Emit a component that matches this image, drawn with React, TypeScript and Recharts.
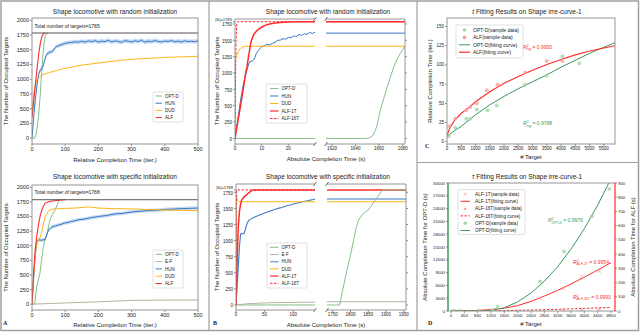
import React from "react";
import { ComposedChart, Line, Area, Scatter, XAxis, YAxis, ReferenceLine } from "recharts";

const FONT = "'Liberation Sans', Arial, sans-serif";
const GREEN = "#86bf86";
const GREEN_DARK = "#3a9a5c";
const GREEN_PT = "#a6d6a6";
const BLUE = "#3b78c6";
const BAND = "#aecbee";
const YELLOW = "#fdb515";
const RED = "#ff2b2b";
const RED_PT = "#f7a0a0";
const GREY_EF = "#b8b3a2";
const FRAME = "#8a8a8a";

// ---------- panel A top: random initialization, relative time ----------
const relTicks = [0, 100, 200, 300, 400, 500];
const occTicks = [0, 250, 500, 750, 1000, 1250, 1500, 1750, 2000];

const aTopOptX = [0, 8, 12, 16, 20, 25, 30, 35, 40, 45, 50];
const aTopOptY = [0, 0, 60, 200, 380, 750, 1200, 1550, 1740, 1785, 1785];
const aTopHunX = [
  0, 5, 10, 15, 20, 25, 30, 35, 40, 45, 50, 55, 60, 65, 70, 75, 80, 90, 100, 110, 120, 130, 140,
  150, 160, 170, 180, 190, 200, 210, 220, 230, 240, 250, 260, 270, 280, 290, 300, 310, 320, 330,
  340, 350, 360, 370, 380, 390, 400, 410, 420, 430, 440, 450, 460, 470, 480, 490, 500,
];
const aTopHunY = [
  0, 350, 650, 900, 1080, 1160, 1180, 1250, 1360, 1430, 1450, 1460, 1470, 1490, 1540, 1560, 1570, 1590, 1610, 1620, 1625, 1635, 1630,
  1645, 1630, 1650, 1638, 1655, 1632, 1648, 1640, 1660, 1635, 1650, 1642, 1628, 1655, 1645, 1635, 1652, 1640,
  1660, 1630, 1648, 1638, 1655, 1642, 1633, 1650, 1640, 1658, 1636, 1647, 1632, 1652, 1640, 1645, 1638, 1650,
];
const aTopDudX = [0, 3, 6, 10, 15, 20, 30, 50, 75, 100, 150, 200, 250, 300, 350, 400, 450, 500];
const aTopDudY = [350, 600, 800, 920, 990, 1030, 1070, 1110, 1150, 1185, 1240, 1275, 1310, 1340, 1355, 1370, 1380, 1390];
const aTopAlfX = [0, 5, 10, 15, 20, 25, 30, 35, 40];
const aTopAlfY = [350, 620, 900, 1170, 1420, 1610, 1730, 1780, 1785];

// ---------- panel A bottom: specific initialization, relative time ----------
const aBotOptX = [0, 8, 14, 24, 34, 39, 45, 54, 62, 69, 76, 82];
const aBotOptY = [0, 0, 300, 530, 980, 1100, 1200, 1440, 1540, 1611, 1700, 1788];
const aBotEfX = [0, 50, 100, 200, 300, 400, 500];
const aBotEfY = [0, 10, 20, 40, 65, 70, 70];
const aBotHunX = [0, 5, 10, 15, 20, 30, 40, 45, 50, 55, 60, 70, 80, 90, 100, 120, 140, 160, 180, 200, 225, 250, 275, 300, 325, 350, 375, 400, 425, 450, 475, 500];
const aBotHunY = [0, 450, 850, 1080, 1100, 1095, 1110, 1200, 1270, 1300, 1320, 1340, 1355, 1372, 1390, 1415, 1445, 1458, 1482, 1500, 1518, 1545, 1555, 1578, 1590, 1602, 1608, 1622, 1628, 1636, 1640, 1645];
const aBotDudX = [0, 5, 10, 15, 20, 25, 30, 35, 40, 50, 60, 80, 100, 130, 160, 170, 200, 250, 300, 350, 400, 450, 500];
const aBotDudY = [0, 500, 850, 1050, 1100, 1150, 1250, 1400, 1500, 1600, 1625, 1635, 1640, 1645, 1660, 1665, 1645, 1635, 1630, 1620, 1612, 1605, 1600];
const aBotAlfX = [0, 5, 10, 14, 20, 24, 30, 39, 50, 60, 80, 100];
const aBotAlfY = [0, 550, 950, 1154, 1380, 1497, 1620, 1726, 1754, 1765, 1780, 1788];

// ---------- panel B top: random initialization, absolute time (broken axis) ----------
const bTopTicksL = [0, 10, 20];
const bTopTicksR = [1620, 1640, 1660, 1680];
const bTopYTicks = [0, 250, 500, 750, 1000, 1250, 1500, 1750, 1785];
const bTopOptLX = [0, 30];
const bTopOptLY = [0, 0];
const bTopOptRX = [1615, 1648, 1652, 1655, 1658, 1661, 1664, 1667, 1670, 1672.5, 1675, 1678, 1682];
const bTopOptRY = [0, 0, 8, 50, 178, 433, 610, 790, 960, 1096, 1200, 1300, 1413];
const bTopHunX = [0, 1, 2, 2.5, 3, 4, 5, 5.5, 6, 6.5, 7, 7.5, 8, 9, 10, 11, 12, 13, 14, 15, 16, 17, 18, 19, 20, 21, 22, 23, 24, 25, 26, 27, 28, 29, 30];
const bTopHunY = [0, 280, 560, 689, 800, 980, 1122, 1170, 1180, 1185, 1200, 1240, 1300, 1360, 1400, 1420, 1440, 1430, 1452, 1470, 1500, 1503, 1525, 1518, 1545, 1540, 1565, 1560, 1590, 1575, 1600, 1590, 1620, 1605, 1625];
const bTopDudX = [0, 0.15, 0.5, 1, 1.5, 2, 3, 4, 30];
const bTopDudY = [0, 1200, 1260, 1310, 1350, 1375, 1400, 1410, 1410];
const bTopAlf1X = [0, 1, 2, 3, 4, 4.5, 5, 6, 7, 8, 9, 10, 11, 13, 15, 18, 22, 30];
const bTopAlf1Y = [0, 240, 480, 730, 1000, 1100, 1230, 1480, 1590, 1640, 1675, 1700, 1725, 1750, 1765, 1778, 1783, 1785];
const bTopAlf16X = [0, 0.2, 0.4, 0.6, 0.8, 1, 30];
const bTopAlf16Y = [0, 900, 1500, 1720, 1770, 1785, 1785];
const bTopFlatRX = [1615, 1682];
const bTopHunR = [1610, 1610];
const bTopDudR = [1410, 1410];
const bTopAlfR = [1785, 1785];

// ---------- panel B bottom: specific initialization, absolute time (broken axis) ----------
const bBotTicksL = [0, 50, 100];
const bBotTicksR = [1750, 1800, 1850, 1900, 1950];
const bBotYTicks = [0, 250, 500, 750, 1000, 1250, 1500, 1750, 1788];
const bBotOptLX = [0, 138];
const bBotOptLY = [0, 0];
const bBotOptRX = [1734, 1769.6, 1776, 1783, 1790, 1800, 1809, 1816, 1823, 1830, 1837, 1843, 1850, 1856, 1862, 1869, 1876, 1883, 1888, 1892, 1956];
const bBotOptRY = [0, 0, 181, 360, 543, 780, 1009, 1200, 1320, 1380, 1424, 1450, 1475, 1520, 1570, 1630, 1680, 1734, 1765, 1788, 1788];
const bBotEfLX = [0, 20, 60, 138];
const bBotEfLY = [0, 20, 35, 45];
const bBotHunX = [0, 3, 6, 8, 10, 12, 14, 16, 18, 20, 22, 25, 30, 35, 40, 45, 50, 55, 60, 65, 70, 75, 80, 85, 90, 95, 100, 105, 110, 115, 120, 125, 130, 135, 138];
const bBotHunY = [0, 450, 900, 1100, 1110, 1108, 1115, 1160, 1230, 1280, 1310, 1330, 1355, 1375, 1395, 1410, 1430, 1445, 1460, 1475, 1490, 1505, 1515, 1530, 1545, 1555, 1570, 1580, 1590, 1600, 1612, 1620, 1630, 1638, 1646];
const bBotDudX = [0, 0.5, 1, 1.5, 2, 3, 4, 5, 138];
const bBotDudY = [0, 1600, 1700, 1690, 1650, 1620, 1610, 1604, 1604];
const bBotAlf1X = [0, 2, 4, 6, 8, 10, 13, 16, 19, 22, 26, 30, 138];
const bBotAlf1Y = [0, 700, 1216, 1450, 1570, 1630, 1670, 1695, 1715, 1740, 1770, 1788, 1788];
const bBotAlf16X = [0, 0.5, 1, 138];
const bBotAlf16Y = [0, 1200, 1788, 1788];
const bBotFlatRX = [1734, 1956];
const bBotEfR = [50, 50];
const bBotHunR = [1646, 1646];
const bBotDudR = [1604, 1604];
const bBotAlfR = [1788, 1788];

// ---------- panel C: t fitting ----------
const cXTicks = [0, 500, 1000, 1500, 2000, 2500, 3000, 3500, 4000, 4500, 5000, 5500];
const cYTicks = [0, 25, 50, 75, 100, 125, 150];
const cOptPtX = [58, 290, 675, 815, 1049, 1420, 1748, 2738, 3497, 4045, 4638];
const cOptPtY = [7, 18, 30, 30, 42, 41, 47, 74, 86, 111, 102];
const cAlfPtX = [92, 290, 675, 815, 1049, 1399, 1772, 2738, 3497, 4045];
const cAlfPtY = [20, 30, 41, 45, 50, 67, 74, 90, 105, 105];
const cOptFitX = [0, 250, 500, 1000, 1500, 2000, 2500, 3000, 3500, 4000, 4500, 5000, 5500, 5900];
const cOptFitY = [7, 14, 20, 35, 48, 59, 69, 78, 87, 97, 106, 115, 123, 129];
const cAlfFitX = [0, 100, 250, 500, 750, 1000, 1500, 2000, 2500, 3000, 3500, 4000, 4500, 5000, 5500, 5900];
const cAlfFitY = [8, 18, 27, 37, 44, 52, 65, 76, 85, 93, 100.5, 107, 113, 118, 122, 125];

// ---------- panel D: tau fitting ----------
const dXTicks = [0, 400, 800, 1200, 1600, 2000, 2400, 2800, 3200, 3600, 4000, 4400, 4800];
const dLTicks = [0, 3000, 6000, 9000, 12000, 15000, 18000, 21000, 24000, 27000, 30000];
const dRTicks = [0, 100, 200, 300, 400, 500, 600, 700, 800, 900];
const dOptPtX = [78, 290, 827, 1227, 1397, 2673, 3392, 4221, 4749];
const dOptPtY = [0, 0, 0, 235, 1010, 6887, 13935, 22160, 28590];
const dOptFitX = [0, 400, 800, 1200, 1600, 2000, 2400, 2800, 3200, 3600, 4000, 4400, 4800];
const dOptFitY = [0, 0, 30, 120, 760, 2150, 4200, 6950, 10400, 14500, 19300, 24800, 31000];
const dAlf1PtX = [78, 290, 827, 1227, 1397, 2673, 3372, 3920, 4449];
const dAlf1PtY = [0, 1, 2, 4, 6, 89, 160, 242, 280];
const dAlf1FitX = [0, 400, 800, 1200, 1600, 2000, 2400, 2800, 3200, 3600, 4000, 4400, 4800];
const dAlf1FitY = [0, 1, 4, 10, 20, 38, 68, 105, 145, 190, 238, 288, 340];
const dAlf16PtX = [78, 290, 827, 1227, 1397, 2673, 3372, 3920, 4449];
const dAlf16PtY = [0, 0, 0, 1, 2, 3, 10, 12, 15];
const dAlf16FitX = [0, 800, 1600, 2400, 3200, 4000, 4800];
const dAlf16FitY = [0, 1, 3, 7, 12, 18, 25];

const pts = (xs: number[], ys: number[]) => xs.map((x, i) => ({ x, y: ys[i] }));
const band = (xs: number[], ys: number[], s: number) => xs.map((x, i) => ({ x, band: [ys[i] - s, ys[i] + s] }));

type R = { x: number; y: number; w: number; h: number };
const rAT: R = { x: 32, y: 18, w: 166, h: 126 };
const rAB: R = { x: 32, y: 185, w: 166, h: 125 };
const rBTL: R = { x: 235, y: 19, w: 80, h: 125 };
const rBTR: R = { x: 326, y: 19, w: 79, h: 125 };
const rBBL: R = { x: 236, y: 184, w: 79, h: 126 };
const rBBR: R = { x: 327, y: 184, w: 79, h: 126 };
const rC: R = { x: 447, y: 18, w: 168, h: 126 };
const rD: R = { x: 448, y: 183, w: 167, h: 128 };

function Box({ r, yw, rw = 0, xh = 12, children }: { r: R; yw: number; rw?: number; xh?: number; children: React.ReactNode }) {
  const right = rw > 0 ? 0 : 8;
  return (
    <div style={{ position: "absolute", left: r.x - yw, top: r.y - 3 }}>
      <ComposedChart width={r.w + yw + rw + right} height={r.h + 3 + xh} margin={{ top: 3, right, left: 0, bottom: 0 }}>
        {children}
      </ComposedChart>
    </div>
  );
}

const tickLine = { stroke: "#444", strokeWidth: 0.6 };
const xAx = (domain: number[], ticks: number[], fs: number) => (
  <XAxis type="number" dataKey="x" domain={domain} ticks={ticks} interval={0} allowDataOverflow axisLine={false}
    tickLine={tickLine} tickSize={2} tickMargin={1} height={12} tick={{ fontSize: fs, fill: "#222", fontFamily: FONT }} />
);
const yAx = (domain: number[], ticks: number[], fs: number, width: number, opts: any = {}) => (
  <YAxis type="number" dataKey="y" domain={domain} ticks={ticks} interval={0} allowDataOverflow axisLine={false}
    tickLine={tickLine} tickSize={2} tickMargin={1} width={width} tick={{ fontSize: fs, fill: "#222", fontFamily: FONT }} {...opts} />
);
const ln = (data: any[], color: string, w = 1, dash?: string, axis: any = 0) => (
  <Line data={data} dataKey="y" type="linear" stroke={color} strokeWidth={w} strokeDasharray={dash} dot={false}
    activeDot={false} isAnimationActive={false} yAxisId={axis} />
);
const dotShape = (color: string) => (p: any) => <circle cx={p.cx} cy={p.cy} r={2} fill={color} fillOpacity={0.8} />;
const crossShape = (color: string) => (p: any) => (
  <g stroke={color} strokeWidth={0.7}>
    <line x1={p.cx - 1.7} y1={p.cy - 1.7} x2={p.cx + 1.7} y2={p.cy + 1.7} />
    <line x1={p.cx - 1.7} y1={p.cy + 1.7} x2={p.cx + 1.7} y2={p.cy - 1.7} />
  </g>
);
const triShape = (color: string) => (p: any) => (
  <polygon points={`${p.cx},${p.cy - 2} ${p.cx - 1.8},${p.cy + 1.4} ${p.cx + 1.8},${p.cy + 1.4}`} fill={color} fillOpacity={0.8} />
);

// |S| tick label sits a little above the 1750 label, as in the figure
const STick = (p: any) => {
  const v = p.payload.value;
  const top = v === 1785 || v === 1788;
  return (
    <text x={p.x} y={p.y + (top ? -2.2 : 0.6)} dy="0.355em" textAnchor="end" fontSize={top ? 4.2 : 4.5} fill="#222" fontFamily={FONT}>
      {top ? `|S|=${v}` : String(v)}
    </text>
  );
};
const noLabel = () => "";

type Item = { label: string; color: string; kind: "line" | "circle" | "cross" | "tri"; w?: number; dash?: string; op?: number };
function LegendSvg({ x, y, w, h, items, x0, x1, tx, y0, step, fs }: any) {
  return (
    <g>
      <rect x={x} y={y} width={w} height={h} fill="#fff" fillOpacity={0.9} stroke="#cfcfcf" strokeWidth={0.6} rx={1} />
      {items.map((it: Item, i: number) => {
        const cy = y0 + i * step;
        const cx = (x0 + x1) / 2;
        return (
          <g key={i}>
            {it.kind === "line" && <line x1={x0} x2={x1} y1={cy} y2={cy} stroke={it.color} strokeWidth={it.w ?? 1} strokeDasharray={it.dash} strokeOpacity={it.op ?? 1} />}
            {it.kind === "circle" && <circle cx={cx} cy={cy} r={1.8} fill={it.color} />}
            {it.kind === "cross" && (
              <g stroke={it.color} strokeWidth={0.7}>
                <line x1={cx - 1.6} y1={cy - 1.6} x2={cx + 1.6} y2={cy + 1.6} />
                <line x1={cx - 1.6} y1={cy + 1.6} x2={cx + 1.6} y2={cy - 1.6} />
              </g>
            )}
            {it.kind === "tri" && <polygon points={`${cx},${cy - 1.9} ${cx - 1.7},${cy + 1.3} ${cx + 1.7},${cy + 1.3}`} fill={it.color} />}
            <text x={tx} y={cy + fs * 0.36} fontSize={fs} fontFamily={FONT} fill="#222">{it.label}</text>
          </g>
        );
      })}
    </g>
  );
}

const frame = (r: R, color = FRAME) => <rect x={r.x} y={r.y} width={r.w} height={r.h} fill="none" stroke={color} strokeWidth={0.9} />;
const brk = (x: number, y: number) => <line x1={x - 1.5} y1={y + 2} x2={x + 1.5} y2={y - 2} stroke="#333" strokeWidth={0.7} />;
const Rsq = ({ x, y, color, sub, val }: any) => (
  <text x={x} y={y} fill={color} fontSize={5} fontFamily={FONT}>
    <tspan fontStyle="italic">R</tspan>
    <tspan fontSize={3.4} dy={-2}>2</tspan>
    <tspan fontSize={3.4} dx={-1.9} dy={3.6} fontStyle="italic">{sub}</tspan>
    <tspan dy={-1.6}>{` = ${val}`}</tspan>
  </text>
);

export default function App() {
  const occDom = [-100, 2040];
  return (
    <div style={{ position: "fixed", left: 0, top: 0, width: 640, height: 333, background: "#fff", overflow: "hidden" }}>
      {/* A top */}
      <Box r={rAT} yw={22}>
        {xAx([0, 500], relTicks, 5.5)}
        {yAx(occDom, occTicks, 5.5, 22)}
        <Area data={band(aTopHunX, aTopHunY, 35)} dataKey="band" stroke="none" fill={BAND} fillOpacity={0.7} isAnimationActive={false} activeDot={false} />
        {ln(pts(aTopOptX, aTopOptY), GREEN)}
        {ln(pts(aTopHunX, aTopHunY), BLUE)}
        {ln(pts(aTopDudX, aTopDudY), YELLOW)}
        {ln(pts(aTopAlfX, aTopAlfY), RED, 1.1)}
        <ReferenceLine y={1785} stroke="#555" strokeWidth={1} />
      </Box>
      {/* A bottom */}
      <Box r={rAB} yw={22}>
        {xAx([0, 500], relTicks, 5.5)}
        {yAx(occDom, occTicks, 5.5, 22)}
        <Area data={band(aBotHunX, aBotHunY, 30)} dataKey="band" stroke="none" fill={BAND} fillOpacity={0.7} isAnimationActive={false} activeDot={false} />
        {ln(pts(aBotOptX, aBotOptY), GREEN)}
        {ln(pts(aBotEfX, aBotEfY), GREY_EF)}
        {ln(pts(aBotHunX, aBotHunY), BLUE)}
        {ln(pts(aBotDudX, aBotDudY), YELLOW)}
        {ln(pts(aBotAlfX, aBotAlfY), RED, 1.1)}
        <ReferenceLine y={1788} stroke="#555" strokeWidth={1} />
      </Box>
      {/* B top left */}
      <Box r={rBTL} yw={24}>
        {xAx([0, 30], bTopTicksL, 4.5)}
        {yAx([-85, 1826], bTopYTicks, 4.5, 24, { tick: <STick /> })}
        {ln(pts(bTopOptLX, bTopOptLY), GREEN)}
        {ln(pts(bTopHunX, bTopHunY), BLUE)}
        {ln(pts(bTopDudX, bTopDudY), YELLOW)}
        {ln(pts(bTopAlf1X, bTopAlf1Y), RED, 1.5)}
        {ln(pts(bTopAlf16X, bTopAlf16Y), RED, 1, "2.5 1.5")}
      </Box>
      {/* B top right */}
      <Box r={rBTR} yw={0} rw={4}>
        {xAx([1615, 1682], bTopTicksR, 4.5)}
        {yAx([-85, 1826], bTopYTicks.slice(0, 8), 4.5, 4, { orientation: "right", tickFormatter: noLabel })}
        {ln(pts(bTopFlatRX, bTopHunR), BLUE)}
        {ln(pts(bTopFlatRX, bTopDudR), YELLOW)}
        {ln(pts(bTopFlatRX, bTopAlfR), RED, 1.5)}
        {ln(pts(bTopFlatRX, bTopAlfR), RED, 1, "2.5 1.5")}
        {ln(pts(bTopOptRX, bTopOptRY), GREEN)}
      </Box>
      {/* B bottom left */}
      <Box r={rBBL} yw={24}>
        {xAx([0, 138], bBotTicksL, 4.5)}
        {yAx([-78, 1880], bBotYTicks, 4.5, 24, { tick: <STick /> })}
        {ln(pts(bBotOptLX, bBotOptLY), GREEN)}
        {ln(pts(bBotEfLX, bBotEfLY), GREY_EF)}
        {ln(pts(bBotHunX, bBotHunY), BLUE, 1.1)}
        {ln(pts(bBotDudX, bBotDudY), YELLOW)}
        {ln(pts(bBotAlf1X, bBotAlf1Y), RED, 1.5)}
        {ln(pts(bBotAlf16X, bBotAlf16Y), RED, 1, "2.5 1.5")}
      </Box>
      {/* B bottom right */}
      <Box r={rBBR} yw={0} rw={4}>
        {xAx([1734, 1956], bBotTicksR, 4.5)}
        {yAx([-78, 1880], bBotYTicks.slice(0, 8), 4.5, 4, { orientation: "right", tickFormatter: noLabel })}
        {ln(pts(bBotFlatRX, bBotEfR), GREY_EF, 1.2)}
        {ln(pts(bBotFlatRX, bBotHunR), BLUE, 1.1)}
        {ln(pts(bBotFlatRX, bBotDudR), YELLOW)}
        {ln(pts(bBotFlatRX, bBotAlfR), RED, 1.5)}
        {ln(pts(bBotOptRX, bBotOptRY), GREEN)}
      </Box>
      {/* C */}
      <Box r={rC} yw={18}>
        {xAx([0, 5890], cXTicks, 4.5)}
        {yAx([-3, 161], cYTicks, 4.5, 18)}
        <Scatter data={pts(cOptPtX, cOptPtY)} dataKey="y" shape={dotShape(GREEN_PT)} isAnimationActive={false} />
        <Scatter data={pts(cAlfPtX, cAlfPtY)} dataKey="y" shape={dotShape(RED_PT)} isAnimationActive={false} />
        {ln(pts(cOptFitX, cOptFitY), GREEN_DARK)}
        {ln(pts(cAlfFitX, cAlfFitY), RED, 1.1)}
      </Box>
      {/* D */}
      <Box r={rD} yw={20} rw={14}>
        {xAx([-90, 4920], dXTicks, 4.3)}
        {yAx([0, 30000], dLTicks, 4.3, 20, { yAxisId: "l" })}
        {yAx([0, 900], dRTicks, 4.3, 14, { yAxisId: "r", orientation: "right" })}
        <Scatter yAxisId="r" data={pts(dAlf1PtX, dAlf1PtY)} dataKey="y" shape={crossShape(RED_PT)} isAnimationActive={false} />
        <Scatter yAxisId="r" data={pts(dAlf16PtX, dAlf16PtY)} dataKey="y" shape={triShape(RED_PT)} isAnimationActive={false} />
        <Scatter yAxisId="l" data={pts(dOptPtX, dOptPtY)} dataKey="y" shape={dotShape(GREEN_PT)} isAnimationActive={false} />
        {ln(pts(dAlf1FitX, dAlf1FitY), RED, 1, undefined, "r")}
        {ln(pts(dAlf16FitX, dAlf16FitY), RED, 1, "2.5 1.5", "r")}
        {ln(pts(dOptFitX, dOptFitY), GREEN_DARK, 1, undefined, "l")}
      </Box>

      <svg width={640} height={333} style={{ position: "absolute", left: 0, top: 0, pointerEvents: "none" }}>
        {/* figure borders */}
        <rect x={1} y={1} width={637.5} height={329.5} fill="none" stroke="#a0a0a0" strokeWidth={1.5} />
        <line x1={209} y1={1} x2={209} y2={330.5} stroke="#a0a0a0" strokeWidth={1.2} />
        <line x1={417} y1={1} x2={417} y2={330.5} stroke="#a0a0a0" strokeWidth={1.2} />
        <line x1={417} y1={162.5} x2={638.5} y2={162.5} stroke="#a0a0a0" strokeWidth={1.2} />

        {/* frames */}
        {frame(rAT)}
        {frame(rAB)}
        {frame(rC)}
        <line x1={rD.x} y1={rD.y} x2={rD.x + rD.w} y2={rD.y} stroke={FRAME} strokeWidth={0.9} />
        <line x1={rD.x} y1={rD.y + rD.h} x2={rD.x + rD.w} y2={rD.y + rD.h} stroke={FRAME} strokeWidth={0.9} />
        <line x1={rD.x} y1={rD.y} x2={rD.x} y2={rD.y + rD.h} stroke={GREEN_DARK} strokeWidth={1.5} />
        <line x1={rD.x + rD.w} y1={rD.y} x2={rD.x + rD.w} y2={rD.y + rD.h} stroke={RED} strokeWidth={1.2} />
        {[rBTL, rBBL].map((r, i) => (
          <path key={"l" + i} d={`M${r.x + r.w},${r.y} H${r.x} V${r.y + r.h} H${r.x + r.w}`} fill="none" stroke={FRAME} strokeWidth={0.9} />
        ))}
        {[rBTR, rBBR].map((r, i) => (
          <path key={"r" + i} d={`M${r.x},${r.y} H${r.x + r.w} V${r.y + r.h} H${r.x}`} fill="none" stroke={FRAME} strokeWidth={0.9} />
        ))}
        {brk(rBTL.x + rBTL.w, rBTL.y)}{brk(rBTL.x + rBTL.w, rBTL.y + rBTL.h)}
        {brk(rBTR.x, rBTR.y)}{brk(rBTR.x, rBTR.y + rBTR.h)}
        {brk(rBBL.x + rBBL.w, rBBL.y)}{brk(rBBL.x + rBBL.w, rBBL.y + rBBL.h)}
        {brk(rBBR.x, rBBR.y)}{brk(rBBR.x, rBBR.y + rBBR.h)}

        {/* titles */}
        <g fontFamily={FONT} fill="#222" fontSize={6.5} textAnchor="middle">
          <text x={115} y={13.5}>Shape locomotive with random initialization</text>
          <text x={328} y={13.5}>Shape locomotive with random initialization</text>
          <text x={115} y={178.5}>Shape locomotive with specific initialization</text>
          <text x={328} y={178.5}>Shape locomotive with specific initialization</text>
          <text x={527} y={14}><tspan fontStyle="italic">t</tspan> Fitting Results on Shape irre-curve-1</text>
          <text x={527} y={179}><tspan fontStyle="italic">τ</tspan> Fitting Results on Shape irre-curve-1</text>
        </g>
        {/* axis labels */}
        <g fontFamily={FONT} fill="#222" fontSize={6} textAnchor="middle">
          <text x={115} y={162}>Relative Completion Time (iter.)</text>
          <text x={115} y={326.5}>Relative Completion Time (iter.)</text>
          <text x={326} y={160.5}>Absolute Completion Time (s)</text>
          <text x={326} y={327}>Absolute Completion Time (s)</text>
          <text x={531} y={159}># Target</text>
          <text x={531} y={326}># Target</text>
          <text transform="translate(8,81) rotate(-90)">The Number of Occupied Targets</text>
          <text transform="translate(8,247.5) rotate(-90)">The Number of Occupied Targets</text>
          <text transform="translate(219,81) rotate(-90)">The Number of Occupied Targets</text>
          <text transform="translate(219,247) rotate(-90)">The Number of Occupied Targets</text>
          <text transform="translate(432,81) rotate(-90)">Relative Completion Time (iter.)</text>
          <text transform="translate(427,247) rotate(-90)">Absolute Completion Time for OPT-D (s)</text>
          <text transform="translate(635,247) rotate(-90)">Absolute Completion Time for ALF (s)</text>
        </g>
        {/* panel letters */}
        <g fontFamily="'Liberation Serif', serif" fontSize={6} fontWeight="bold" fill="#222">
          <text x={3} y={325}>A</text>
          <text x={213} y={325}>B</text>
          <text x={425} y={148}>C</text>
          <text x={428} y={325}>D</text>
        </g>
        {/* total number boxes */}
        <g fontFamily={FONT} fontSize={5} fill="#222">
          <text x={34.5} y={27.5}>Total number of targets=1785</text>
          <text x={34.5} y={194}>Total number of targets=1788</text>
        </g>
        {/* R^2 annotations */}
        <Rsq x={523} y={48.5} color={RED} sub="log" val="0.9950" />
        <Rsq x={523} y={125} color={GREEN_DARK} sub="log" val="0.9788" />
        <Rsq x={548} y={222} color={GREEN_DARK} sub="OPT-D" val="0.9976" />
        <Rsq x={573} y={263.5} color={RED} sub="ALF-1T" val="0.9954" />
        <Rsq x={573} y={298.5} color={RED} sub="ALF-16T" val="0.9993" />

        {/* legends */}
        <LegendSvg x={153} y={92} w={30} h={30} x0={155.5} x1={162} tx={165} y0={96} step={7.2} fs={4.5}
          items={[
            { label: "OPT-D", color: GREEN, kind: "line" },
            { label: "HUN", color: BLUE, kind: "line" },
            { label: "DUD", color: YELLOW, kind: "line" },
            { label: "ALF", color: RED, kind: "line" },
          ]} />
        <LegendSvg x={153} y={250} w={30} h={38} x0={155.5} x1={162} tx={165} y0={254.3} step={7.3} fs={4.5}
          items={[
            { label: "OPT-D", color: GREEN, kind: "line" },
            { label: "E-F", color: GREY_EF, kind: "line" },
            { label: "HUN", color: BLUE, kind: "line", w: 1.6, op: 0.6 },
            { label: "DUD", color: YELLOW, kind: "line" },
            { label: "ALF", color: RED, kind: "line" },
          ]} />
        <LegendSvg x={266} y={84} w={41} h={39} x0={270} x1={278.5} tx={281.5} y0={88.5} step={7.5} fs={4.5}
          items={[
            { label: "OPT-D", color: GREEN, kind: "line" },
            { label: "HUN", color: BLUE, kind: "line" },
            { label: "DUD", color: YELLOW, kind: "line" },
            { label: "ALF-1T", color: RED, kind: "line", w: 1.5, op: 0.8 },
            { label: "ALF-16T", color: RED, kind: "line", dash: "2.5 1.5" },
          ]} />
        <LegendSvg x={267} y={243} w={40} h={45} x0={270} x1={278.5} tx={281.5} y0={247.3} step={7.2} fs={4.5}
          items={[
            { label: "OPT-D", color: GREEN, kind: "line" },
            { label: "E-F", color: GREY_EF, kind: "line" },
            { label: "HUN", color: BLUE, kind: "line", w: 1.6, op: 0.6 },
            { label: "DUD", color: YELLOW, kind: "line" },
            { label: "ALF-1T", color: RED, kind: "line", w: 1.5, op: 0.8 },
            { label: "ALF-16T", color: RED, kind: "line", dash: "2.5 1.5" },
          ]} />
        <LegendSvg x={456} y={25} w={67} h={33} x0={459} x1={470} tx={473} y0={30} step={7.4} fs={5}
          items={[
            { label: "OPT-D(sample data)", color: GREEN_PT, kind: "circle" },
            { label: "ALF(sample data)", color: RED_PT, kind: "circle" },
            { label: "OPT-D(fitting curve)", color: GREEN_DARK, kind: "line" },
            { label: "ALF(fitting curve)", color: RED, kind: "line", w: 1.2 },
          ]} />
        <LegendSvg x={458} y={189.5} w={67} h={45} x0={460.5} x1={470} tx={475} y0={194} step={7.3} fs={4.7}
          items={[
            { label: "ALF-1T(sample data)", color: RED_PT, kind: "cross" },
            { label: "ALF-1T(fitting curve)", color: RED, kind: "line" },
            { label: "ALF-16T(sample data)", color: RED_PT, kind: "tri" },
            { label: "ALF-16T(fitting curve)", color: RED, kind: "line", dash: "2.5 1.5" },
            { label: "OPT-D(sample data)", color: GREEN_PT, kind: "circle" },
            { label: "OPT-D(fitting curve)", color: GREEN_DARK, kind: "line" },
          ]} />
      </svg>
    </div>
  );
}
